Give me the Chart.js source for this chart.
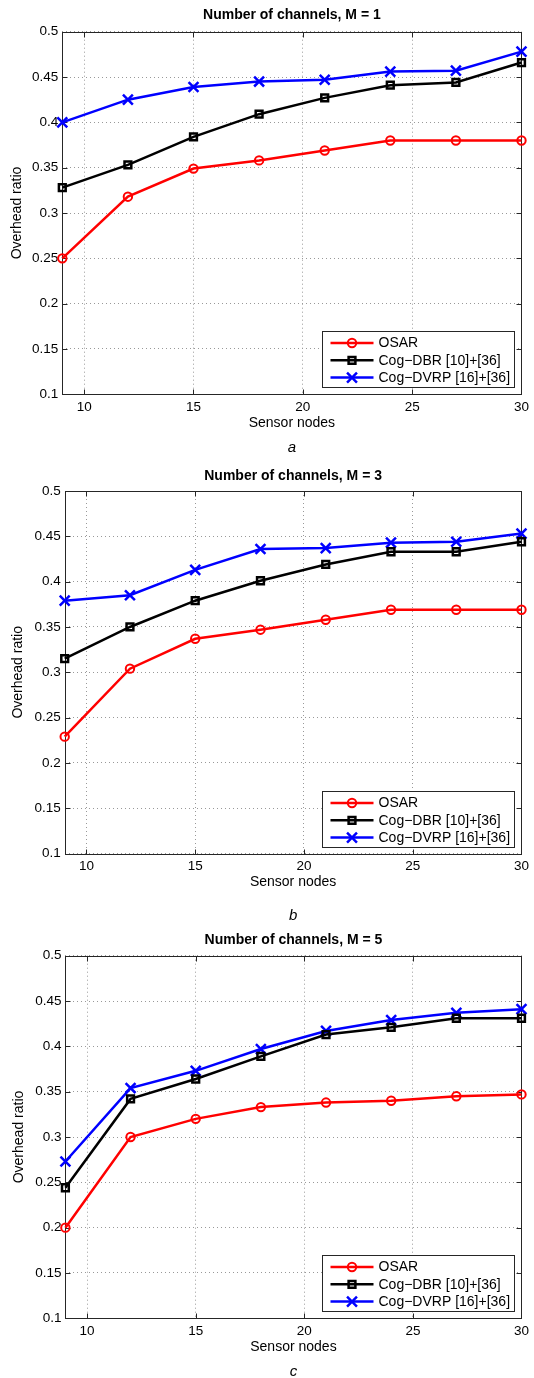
<!DOCTYPE html>
<html>
<head>
<meta charset="utf-8">
<script src="https://cdn.jsdelivr.net/npm/chart.js@4.4.1/dist/chart.umd.min.js"></script>
<style>
  html, body { margin: 0; padding: 0; background: #fff; overflow: hidden; }
  body { width: 534px; height: 1378px; position: relative; }
  canvas { position: absolute; left: 0; }
</style>
</head>
<body>
<canvas id="chartA" width="534" height="459" style="top:0px"></canvas>
<canvas id="chartB" width="534" height="465" style="top:459px"></canvas>
<canvas id="chartC" width="534" height="456" style="top:924px"></canvas>
<script>
// x values (sensor nodes) and axis ticks
const sensorNodes = [9, 12, 15, 18, 21, 24, 27, 30];
const xTicks = [10, 15, 20, 25, 30];
const yTicks = [0.1, 0.15, 0.2, 0.25, 0.3, 0.35, 0.4, 0.45, 0.5];

const seriesNames = ["OSAR", "Cog\u2212DBR [10]+[36]", "Cog\u2212DVRP [16]+[36]"];

// M = 1
const osarM1 = [0.250, 0.318, 0.349, 0.358, 0.369, 0.380, 0.380, 0.380];
const dbrM1  = [0.328, 0.353, 0.384, 0.409, 0.427, 0.441, 0.444, 0.466];
const dvrpM1 = [0.400, 0.425, 0.439, 0.445, 0.447, 0.456, 0.457, 0.478];

// M = 3
const osarM3 = [0.229, 0.304, 0.337, 0.347, 0.358, 0.369, 0.369, 0.369];
const dbrM3  = [0.315, 0.350, 0.379, 0.401, 0.419, 0.433, 0.433, 0.444];
const dvrpM3 = [0.379, 0.385, 0.413, 0.436, 0.437, 0.443, 0.444, 0.453];

// M = 5
const osarM5 = [0.200, 0.300, 0.320, 0.333, 0.338, 0.340, 0.345, 0.347];
const dbrM5  = [0.244, 0.342, 0.364, 0.389, 0.413, 0.421, 0.431, 0.431];
const dvrpM5 = [0.273, 0.354, 0.373, 0.397, 0.417, 0.429, 0.437, 0.441];

const FONT = '"Liberation Sans", Arial, Helvetica, sans-serif';

function drawMarker(ctx, style, x, y, r, bw, color) {
  ctx.save();
  ctx.strokeStyle = color;
  ctx.lineWidth = bw;
  ctx.beginPath();
  if (style === "circle") {
    ctx.arc(x, y, r, 0, Math.PI * 2);
  } else if (style === "rect") {
    const s = r * Math.SQRT1_2;
    ctx.rect(x - s, y - s, 2 * s, 2 * s);
  } else {
    const s = r * Math.SQRT1_2;
    ctx.moveTo(x - s, y - s); ctx.lineTo(x + s, y + s);
    ctx.moveTo(x - s, y + s); ctx.lineTo(x + s, y - s);
  }
  ctx.stroke();
  ctx.restore();
}

// axes box with inward ticks, like matlab
const axesBox = {
  id: "axesBox",
  beforeDatasetsDraw(chart) {
    const { ctx, chartArea: a, scales } = chart;
    const L = Math.round(a.left) + 0.5, R = Math.round(a.right) + 0.5;
    const T = Math.round(a.top) + 0.5, B = Math.round(a.bottom) + 0.5;
    ctx.save();
    ctx.strokeStyle = "#262626";
    ctx.lineWidth = 1;
    ctx.strokeRect(L, T, R - L, B - T);
    ctx.beginPath();
    scales.x.ticks.forEach((t) => {
      const px = Math.round(scales.x.getPixelForValue(t.value)) + 0.5;
      ctx.moveTo(px, B); ctx.lineTo(px, B - 5);
      ctx.moveTo(px, T); ctx.lineTo(px, T + 5);
    });
    scales.y.ticks.forEach((t) => {
      const py = Math.round(scales.y.getPixelForValue(t.value)) + 0.5;
      ctx.moveTo(L, py); ctx.lineTo(L + 5, py);
      ctx.moveTo(R, py); ctx.lineTo(R - 5, py);
    });
    ctx.stroke();
    ctx.restore();
  },
};

// legend box in lower right corner of plot
const boxLegend = {
  id: "boxLegend",
  afterDraw(chart) {
    const { ctx, chartArea } = chart;
    const w = 192, h = 56;
    const x0 = Math.round(chartArea.right - 7 - w) + 0.5;
    const y0 = Math.round(chartArea.bottom - 7 - h) + 0.5;
    ctx.save();
    ctx.fillStyle = "#fff";
    ctx.fillRect(x0, y0, w, h);
    ctx.strokeStyle = "#262626";
    ctx.lineWidth = 1;
    ctx.strokeRect(x0, y0, w, h);
    ctx.font = "14px " + FONT;
    ctx.textBaseline = "middle";
    chart.data.datasets.forEach((ds, i) => {
      const y = y0 + 11.5 + i * 17.3;
      ctx.strokeStyle = ds.borderColor;
      ctx.lineWidth = ds.borderWidth;
      ctx.beginPath();
      ctx.moveTo(x0 + 8, y);
      ctx.lineTo(x0 + 51, y);
      ctx.stroke();
      drawMarker(ctx, ds.pointStyle, x0 + 29.5, y, ds.pointRadius, ds.pointBorderWidth, ds.borderColor);
      ctx.fillStyle = "#000";
      ctx.fillText(ds.label, x0 + 56, y + 0.5);
    });
    ctx.restore();
  },
};

function makeSeries(label, values, color, style, radius, bw) {
  return {
    label,
    data: sensorNodes.map((x, i) => ({ x, y: values[i] })),
    borderColor: color,
    backgroundColor: color,
    borderWidth: 2.5,
    pointStyle: style,
    pointRadius: radius,
    pointHoverRadius: radius,
    pointBorderWidth: bw,
    pointBorderColor: color,
    pointBackgroundColor: "rgba(0,0,0,0)",
    clip: false,
    tension: 0,
  };
}

function makePanel(id, title, caption, values, g) {
  const ctx = document.getElementById(id).getContext("2d");
  return new Chart(ctx, {
    type: "line",
    data: {
      datasets: [
        makeSeries(seriesNames[0], values[0], "#ff0000", "circle", 4.2, 2),
        makeSeries(seriesNames[1], values[1], "#000000", "rect", 4.8, 2.5),
        makeSeries(seriesNames[2], values[2], "#0000ff", "crossRot", 7, 2.5),
      ],
    },
    options: {
      responsive: false,
      animation: false,
      events: [],
      layout: { padding: { left: 0, right: g.right, top: 0, bottom: 0 } },
      plugins: {
        legend: { display: false },
        tooltip: { enabled: false },
        title: {
          display: true,
          fullSize: false,
          text: title,
          color: "#000",
          font: { family: FONT, size: 14, weight: "bold", lineHeight: 1.2 },
          padding: { top: g.titleTop, bottom: g.titleBottom },
        },
        subtitle: {
          display: true,
          fullSize: false,
          position: "bottom",
          text: caption,
          color: "#000",
          font: { family: FONT, size: 15, style: "italic", lineHeight: 1 },
          padding: { top: g.capTop, bottom: g.capBottom },
        },
      },
      scales: {
        x: {
          type: "linear",
          min: 9,
          max: 30,
          afterBuildTicks: (s) => { s.ticks = xTicks.map((v) => ({ value: v })); },
          afterFit: (s) => { s.height = 37.4; },
          grid: { color: "#999999", lineWidth: 1, drawTicks: false },
          border: { display: false, dash: [1, 3] },
          ticks: { color: "#000", padding: 5, font: { family: FONT, size: 13.5 } },
          title: {
            display: true,
            text: "Sensor nodes",
            color: "#000",
            font: { family: FONT, size: 14, lineHeight: 1.2 },
            padding: { top: 0, bottom: 0 },
          },
        },
        y: {
          type: "linear",
          min: 0.1,
          max: 0.5,
          afterBuildTicks: (s) => { s.ticks = yTicks.map((v) => ({ value: v })); },
          afterFit: (s) => { s.width = g.left; },
          grid: { color: "#999999", lineWidth: 1, drawTicks: false },
          border: { display: false, dash: [1, 3] },
          ticks: {
            color: "#000",
            padding: 4,
            font: { family: FONT, size: 13.5 },
            callback: (v) => String(+v.toFixed(2)),
          },
          title: {
            display: true,
            text: "Overhead ratio",
            color: "#000",
            font: { family: FONT, size: 14, lineHeight: 1.2 },
            padding: { top: g.yTitle, bottom: 0 },
          },
        },
      },
    },
    plugins: [axesBox, boxLegend],
  });
}

makePanel("chartA", "Number of channels, M = 1", "a", [osarM1, dbrM1, dvrpM1],
  { left: 62.3, right: 9.7, titleTop: 6.6, titleBottom: 8.3, capTop: 8.8, capBottom: 3.5, yTitle: 8.6 });
makePanel("chartB", "Number of channels, M = 3", "b", [osarM3, dbrM3, dvrpM3],
  { left: 64.7, right: 8.5, titleTop: 8.6, titleBottom: 6.6, capTop: 17.5, capBottom: 0.5, yTitle: 9.9 });
makePanel("chartC", "Number of channels, M = 5", "c", [osarM5, dbrM5, dvrpM5],
  { left: 65.4, right: 7.8, titleTop: 7.6, titleBottom: 7.3, capTop: 8.8, capBottom: 0.5, yTitle: 11.2 });
</script>
</body>
</html>
